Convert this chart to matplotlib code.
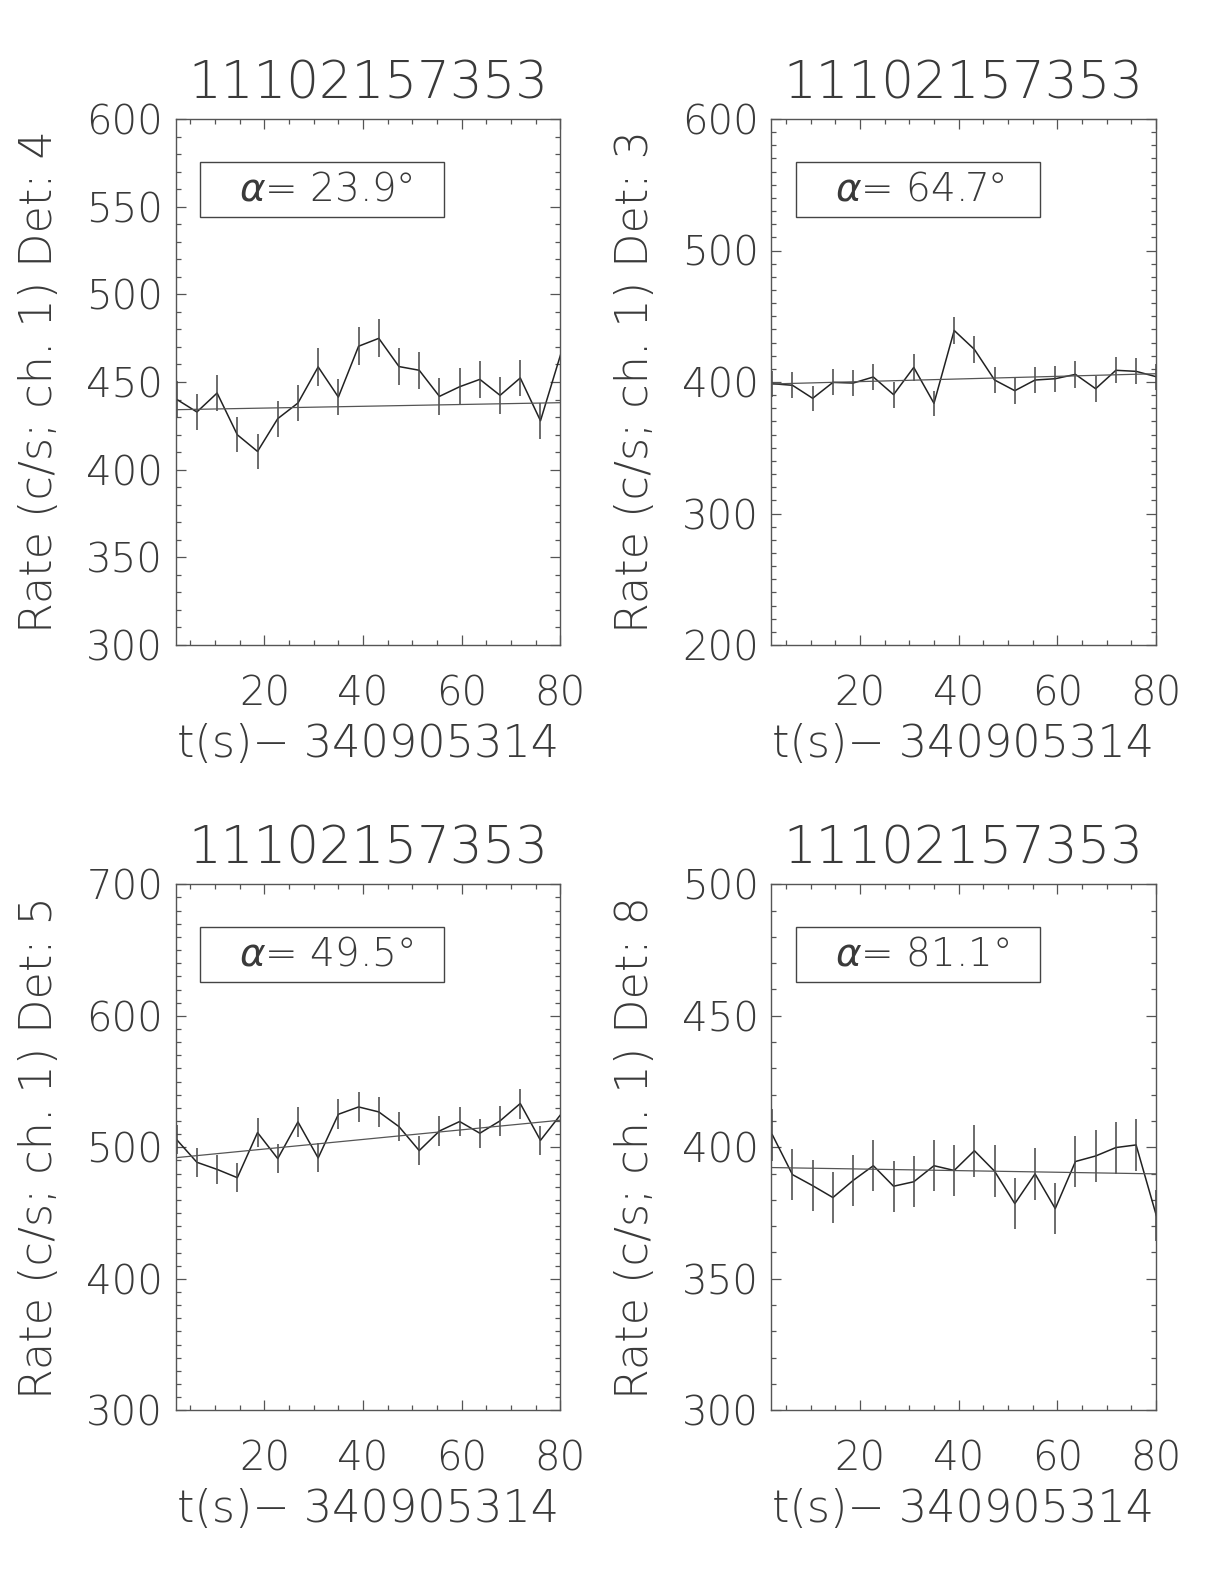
import matplotlib
matplotlib.use("Agg")
import matplotlib.pyplot as plt
from matplotlib.ticker import MultipleLocator
from matplotlib.patches import Rectangle

plt.rcParams['font.family'] = ['DejaVu Sans']
plt.rcParams['font.weight'] = 'light'
plt.rcParams['axes.titleweight'] = 'light'
plt.rcParams['axes.labelweight'] = 'light'
plt.rcParams['mathtext.fontset'] = 'custom'
plt.rcParams['mathtext.it'] = 'DejaVu Sans:italic'
plt.rcParams['mathtext.rm'] = 'DejaVu Sans'

title = "11102157353"
xlabel = "t(s)\u2212 340905314"

t = [2.2, 6.3, 10.4, 14.5, 18.6, 22.7, 26.8, 30.9, 35.0, 39.1,
     43.2, 47.3, 51.4, 55.5, 59.6, 63.7, 67.8, 71.9, 76.0, 80.1]

det_ids = ["4", "3", "5", "8"]
angles = ["23.9", "64.7", "49.5", "81.1"]

rate_d4 = [440.1, 432.9, 443.7, 419.9, 410.4, 429.1, 438.0, 458.6, 441.4, 470.4,
           474.9, 458.8, 456.7, 441.8, 447.3, 451.5, 442.4, 452.3, 427.9, 465.8]
err_d4 = [10.4, 10.3, 10.4, 10.1, 10.0, 10.2, 10.3, 10.6, 10.4, 10.7,
          10.8, 10.6, 10.5, 10.4, 10.4, 10.5, 10.4, 10.5, 10.2, 10.7]

rate_d3 = [398.7, 397.5, 387.6, 399.7, 399.2, 403.8, 390.4, 411.1, 383.8, 439.2,
           424.8, 401.5, 393.4, 401.5, 402.5, 405.8, 394.9, 408.9, 408.1, 404.0]
err_d3 = [9.9, 9.8, 9.7, 9.9, 9.9, 9.9, 9.8, 10.0, 9.7, 10.4,
          10.2, 9.9, 9.8, 9.9, 9.9, 10.0, 9.8, 10.0, 10.0, 9.9]

rate_d5 = [505.8, 488.6, 483.2, 476.9, 511.2, 491.4, 519.3, 491.9, 525.1, 530.7,
           526.9, 515.7, 497.5, 512.4, 519.6, 510.7, 520.1, 533.3, 505.3, 524.9]
err_d5 = [11.1, 10.9, 10.9, 10.8, 11.2, 11.0, 11.3, 11.0, 11.3, 11.4,
          11.3, 11.2, 11.0, 11.2, 11.3, 11.2, 11.3, 11.4, 11.1, 11.3]

rate_d8 = [404.8, 389.6, 385.4, 380.9, 387.4, 393.0, 385.2, 386.9, 393.0, 391.2,
           398.7, 390.9, 378.6, 389.9, 376.7, 394.6, 396.7, 399.9, 400.9, 374.1]
err_d8 = [9.9, 9.8, 9.7, 9.6, 9.7, 9.8, 9.7, 9.7, 9.8, 9.8,
          9.9, 9.8, 9.6, 9.8, 9.6, 9.8, 9.8, 9.9, 9.9, 9.6]

fit_t = [2.0, 80.0]
fit_d4 = [434.2, 438.2]
fit_d3 = [398.5, 406.3]
fit_d5 = [492.1, 520.6]
fit_d8 = [392.3, 389.9]

ylims = [(300, 600), (200, 600), (300, 700), (300, 500)]
ymajor = [50, 100, 100, 50]
yminor = [10, 10, 10, 10]

rates = [rate_d4, rate_d3, rate_d5, rate_d8]
errs = [err_d4, err_d3, err_d5, err_d8]
fits = [fit_d4, fit_d3, fit_d5, fit_d8]

W, H = 1224, 1584
fig = plt.figure(figsize=(W / 100, H / 100), dpi=100)

lefts = [175.7, 771.3, 175.7, 771.3]
tops = [119.0, 119.0, 884.3, 884.3]
aw, ah = 384.5, 526.0

txtc = '#3a3a3a'
linec = '#222222'
fs_tick = 29
fs_lab = 32
fs_title = 37
fs_box = 28

for i in range(4):
    ax = fig.add_axes([lefts[i] / W, 1 - (tops[i] + ah) / H, aw / W, ah / H])
    ax.plot(t, rates[i], color=linec, lw=1.1, clip_on=True)
    ax.errorbar(t, rates[i], yerr=errs[i], fmt='none', ecolor='#444444',
                elinewidth=1.1, capsize=0)
    ax.plot(fit_t, fits[i], color='#555555', lw=0.9)
    ax.set_xlim(2, 80)
    ax.set_ylim(*ylims[i])
    ax.xaxis.set_major_locator(MultipleLocator(20))
    ax.xaxis.set_minor_locator(MultipleLocator(5))
    ax.yaxis.set_major_locator(MultipleLocator(ymajor[i]))
    ax.yaxis.set_minor_locator(MultipleLocator(yminor[i]))
    ax.tick_params(which='both', direction='in', top=True, right=True,
                   colors='#555555', labelcolor=txtc)
    ax.tick_params(which='major', length=7.5, width=0.9, labelsize=fs_tick)
    ax.tick_params(which='minor', length=3.8, width=0.9)
    ax.tick_params(axis='x', which='major', pad=21)
    ax.tick_params(axis='y', which='major', pad=9)
    for s in ax.spines.values():
        s.set_color('#555555')
        s.set_linewidth(1.0)
    ax.set_title(title, fontsize=fs_title, color=txtc, pad=15, fontweight='light')
    ax.set_xlabel(xlabel, fontsize=fs_lab, color=txtc, labelpad=7, fontweight='light')
    ax.set_ylabel("Rate (c/s; ch. 1) Det: " + det_ids[i], fontsize=fs_lab,
                  color=txtc, labelpad=18, fontweight='light')
    ax.add_patch(Rectangle((0.063, 0.814), 0.635, 0.105, transform=ax.transAxes,
                           fill=False, edgecolor='#444444', lw=1.0))
    ax.text(0.165, 0.866, r"$\alpha$= " + angles[i] + "\u00b0", transform=ax.transAxes,
            fontsize=fs_box, color=txtc, va='center', ha='left', fontweight='light')

fig.savefig("out.png", dpi=100, facecolor='white')
